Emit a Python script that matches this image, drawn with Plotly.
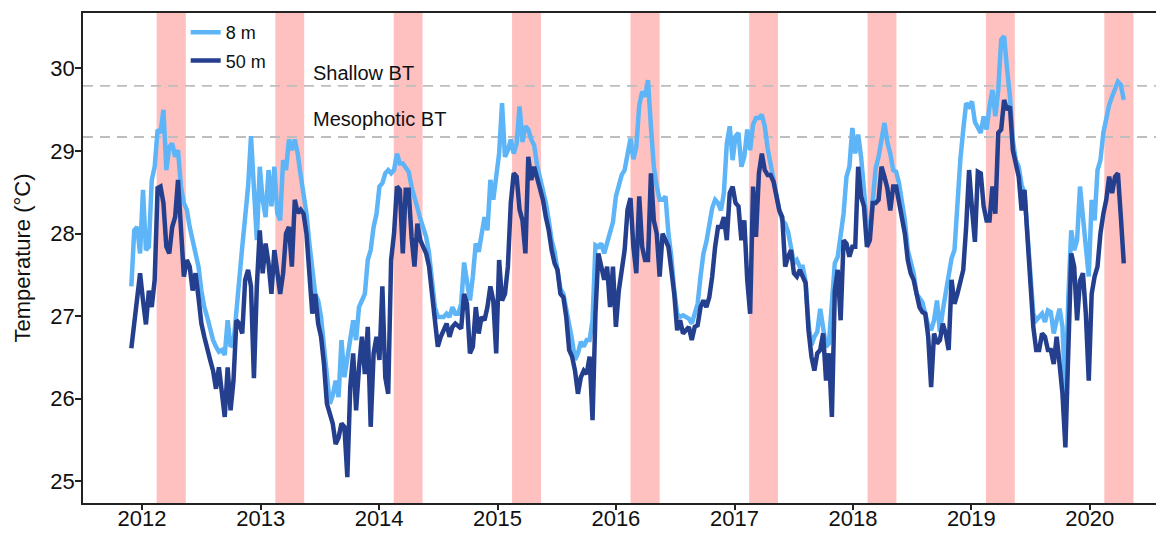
import pandas as pd
import plotly.graph_objects as go

# Sampling grid: one reading every 9 days starting 2011-11-29
start_date = "2011-11-29"
step = "9D"

# 8 m logger (deg C)
t8 = [27.36, 28.04, 28.08, 27.76, 28.53, 27.80, 27.84, 28.65, 28.81, 29.26,
      29.22, 29.50, 28.77, 29.05, 29.09, 28.93, 29.01, 28.57, 28.37, 28.29,
      28.08, 27.92, 27.72, 27.60, 27.31, 27.11, 26.99, 26.83, 26.71, 26.63,
      26.57, 26.59, 26.53, 26.95, 26.63, 26.67, 27.11, 27.48, 27.84, 28.20,
      28.57, 29.18, 28.57, 27.92, 28.81, 28.41, 28.20, 28.77, 28.33, 28.81,
      28.25, 28.16, 28.89, 28.77, 29.14, 29.01, 29.14, 28.97, 28.71, 28.51,
      28.24, 27.88, 27.52, 27.27, 27.19, 26.99, 26.63, 26.22, 25.94, 26.04,
      26.22, 26.02, 26.71, 26.26, 26.51, 26.67, 26.95, 26.71, 27.11, 27.19,
      27.27, 27.68, 27.80, 28.08, 28.24, 28.57, 28.61, 28.73, 28.77, 28.73,
      28.77, 28.97, 28.85, 28.85, 28.79, 28.75, 28.57, 28.41, 28.31, 28.18,
      28.08, 27.96, 27.76, 27.40, 27.11, 26.99, 26.99, 26.99, 27.03, 26.99,
      27.11, 27.03, 27.03, 27.15, 27.65, 27.40, 27.19, 27.48, 27.88, 27.78,
      28.00, 28.20, 28.04, 28.65, 28.41, 28.65, 28.97, 29.58, 28.93, 29.01,
      29.14, 28.97, 29.09, 29.54, 29.11, 29.30, 29.26, 29.14, 29.07, 28.83,
      28.69, 28.53, 28.37, 28.16, 27.92, 27.78, 27.52, 27.33, 27.27, 27.09,
      26.87, 26.71, 26.47, 26.55, 26.69, 26.63, 26.71, 26.71, 26.95, 27.86,
      27.84, 27.88, 27.76, 27.88, 28.00, 28.14, 28.45, 28.61, 28.71, 28.77,
      28.97, 29.15, 28.90, 29.05, 29.55, 29.72, 29.66, 29.86, 29.30, 28.81,
      28.57, 28.41, 28.41, 28.45, 28.00, 27.72, 27.31, 27.03, 26.99, 27.01,
      26.99, 26.97, 26.91, 27.01, 27.15, 27.48, 27.76, 27.90, 28.12, 28.31,
      28.41, 28.37, 28.28, 28.49, 29.09, 29.30, 28.89, 29.18, 29.22, 28.81,
      28.93, 29.26, 29.01, 29.32, 29.40, 29.40, 29.44, 29.30, 29.03, 28.83,
      28.65, 28.43, 28.28, 28.16, 28.12, 28.02, 27.80, 27.64, 27.68, 27.60,
      27.60, 27.42, 26.90, 26.65, 26.75, 26.81, 27.09, 26.87, 26.63, 26.67,
      27.27, 27.64, 27.72, 27.96, 28.24, 28.69, 28.81, 29.28, 28.97, 29.20,
      28.93, 28.53, 28.08, 28.02, 28.49, 28.79, 28.93, 29.14, 29.34, 29.11,
      28.97, 28.77, 28.75, 28.61, 28.37, 28.16, 27.80, 27.66, 27.52, 27.27,
      27.23, 27.17, 27.03, 26.89, 26.83, 26.95, 27.19, 26.81, 27.07, 27.31,
      27.52, 27.70, 27.80, 28.37, 28.89, 29.26, 29.58, 29.54, 29.60, 29.35,
      29.27, 29.22, 29.42, 29.26, 29.54, 29.74, 29.42, 29.74, 30.35, 30.39,
      30.00, 29.66, 29.13, 28.89, 28.81, 28.59, 28.49, 28.04, 27.43, 27.03,
      26.95, 26.99, 27.03, 26.93, 27.07, 27.05, 26.79, 26.95, 27.09, 26.87,
      25.98, 27.23, 28.04, 27.80, 27.92, 28.57, 28.20, 27.72, 27.48, 28.41,
      28.16, 28.77, 28.89, 29.22, 29.40, 29.56, 29.66, 29.74, 29.84, 29.80,
      29.62]

# 50 m logger (deg C)
t50 = [26.61, 26.91, 27.31, 27.52, 27.19, 26.90, 27.31, 27.11, 27.44, 28.55,
       28.57, 28.37, 27.84, 27.76, 28.08, 28.20, 28.65, 28.04, 27.48, 27.68,
       27.60, 27.31, 27.52, 27.23, 26.91, 26.75, 26.63, 26.47, 26.34, 26.12,
       26.38, 26.10, 25.78, 26.38, 25.86, 26.22, 26.95, 26.91, 26.79, 27.44,
       27.56, 27.36, 26.25, 27.36, 28.04, 27.52, 27.88, 27.64, 27.27, 27.80,
       27.56, 27.27, 27.52, 28.00, 28.08, 27.60, 28.41, 28.25, 28.29, 28.24,
       28.00, 27.56, 27.03, 27.27, 26.91, 26.75, 26.42, 25.94, 25.82, 25.70,
       25.45, 25.53, 25.70, 25.66, 25.05, 26.14, 26.55, 25.86, 26.38, 26.75,
       26.30, 26.87, 25.66, 26.55, 26.75, 26.47, 27.36, 26.26, 26.06, 27.68,
       28.00, 28.57, 28.53, 27.76, 28.53, 28.53, 27.96, 27.60, 28.12, 27.92,
       27.84, 27.76, 27.60, 27.27, 26.95, 26.63, 26.75, 26.83, 26.91, 26.75,
       26.87, 26.91, 26.87, 26.85, 27.27, 27.15, 26.55, 26.63, 27.11, 26.79,
       26.99, 26.95, 27.11, 27.36, 27.19, 26.55, 27.68, 27.19, 27.27, 27.60,
       28.37, 28.73, 28.69, 28.29, 28.16, 27.76, 28.93, 28.65, 28.81, 28.69,
       28.57, 28.41, 28.20, 28.04, 27.80, 27.64, 27.56, 27.27, 27.23, 26.99,
       26.59, 26.51, 26.34, 26.06, 26.26, 26.34, 26.30, 26.51, 25.74, 27.03,
       27.76, 27.60, 27.44, 27.60, 27.11, 27.60, 26.87, 27.31, 27.52, 27.80,
       28.29, 28.43, 27.84, 27.52, 28.45, 27.84, 27.68, 27.68, 28.73, 28.16,
       28.00, 27.48, 28.00, 27.92, 27.84, 27.56, 27.27, 26.83, 26.95, 26.79,
       26.83, 26.87, 26.71, 26.87, 26.89, 27.11, 27.19, 27.11, 27.23, 27.48,
       27.84, 28.08, 28.08, 28.20, 27.92, 28.49, 28.57, 28.37, 28.33, 27.92,
       28.16, 27.44, 27.03, 28.57, 27.96, 28.73, 28.97, 28.77, 28.71, 28.71,
       28.63, 28.43, 28.28, 28.20, 27.60, 27.72, 27.80, 27.52, 27.48, 27.56,
       27.46, 27.40, 26.83, 26.51, 26.34, 26.55, 26.59, 26.79, 26.22, 26.55,
       25.78, 27.31, 27.56, 26.95, 27.92, 27.88, 27.72, 27.84, 27.84, 28.81,
       28.45, 28.33, 27.84, 27.92, 28.37, 28.37, 28.41, 28.81, 28.69, 28.55,
       28.28, 28.57, 28.57, 28.37, 28.16, 28.00, 27.68, 27.52, 27.44, 27.27,
       27.11, 27.05, 27.03, 26.75, 26.14, 26.79, 26.67, 26.71, 26.91, 26.79,
       26.59, 27.44, 27.15, 27.27, 27.44, 27.56, 28.08, 28.77, 28.30, 27.90,
       28.75, 28.73, 28.33, 28.16, 28.16, 28.57, 28.24, 29.22, 29.26, 29.62,
       29.50, 29.54, 29.01, 28.85, 28.69, 28.28, 28.53, 27.96, 27.35, 26.87,
       26.59, 26.59, 26.79, 26.75, 26.59, 26.59, 26.42, 26.75, 26.42, 26.06,
       25.41, 26.47, 27.76, 27.60, 26.95, 27.43, 27.52, 27.03, 26.22, 27.27,
       27.48, 27.60, 28.00, 28.24, 28.41, 28.69, 28.49, 28.69, 28.73, 28.20,
       27.64]

# Bleaching thresholds
shallow_bt = 29.79
meso_bt = 29.17

# Warm-season windows (shaded)
season_start = ["2012-02-15", "2013-02-15", "2014-02-15", "2015-02-15", "2016-02-15",
                "2017-02-15", "2018-02-15", "2019-02-15", "2020-02-15"]
season_end = ["2012-05-15", "2013-05-15", "2014-05-15", "2015-05-15", "2016-05-15",
              "2017-05-15", "2018-05-15", "2019-05-15", "2020-05-15"]

tick_years = [2012, 2013, 2014, 2015, 2016, 2017, 2018, 2019, 2020]
y_ticks = [25, 26, 27, 28, 29, 30]

dates = pd.date_range(start_date, periods=len(t8), freq=step)

LIGHT = "#5DB5F8"
DARK = "#243F8E"
FONT = "Liberation Sans, Arial, Helvetica, sans-serif"

fig = go.Figure()
fig.add_trace(go.Scatter(x=dates, y=t8, mode="lines", name="8 m", legendgroup="a",
                         line=dict(color=LIGHT, width=4.5)))
fig.add_trace(go.Scatter(x=dates, y=t50, mode="lines", name="50 m", legendgroup="b",
                         line=dict(color=DARK, width=4.5)))

for s, e in zip(season_start, season_end):
    fig.add_shape(type="rect", xref="x", yref="paper", x0=s, x1=e, y0=0, y1=1,
                  fillcolor="#FFC0C0", line=dict(width=0), layer="below")

for v in (shallow_bt, meso_bt):
    fig.add_shape(type="line", xref="paper", yref="y", x0=0, x1=1, y0=v, y1=v,
                  line=dict(color="#BDBDBD", width=1.8, dash="10px,7px"), layer="below")

fig.add_annotation(text="Shallow BT", xref="paper", yref="y", x=0.2105, y=29.94,
                   xanchor="left", yanchor="middle", showarrow=False,
                   font=dict(size=20, color="#111111", family=FONT))
fig.add_annotation(text="Mesophotic BT", xref="paper", yref="y", x=0.2105, y=29.39,
                   xanchor="left", yanchor="middle", showarrow=False,
                   font=dict(size=20, color="#111111", family=FONT))

# The page body adds an 8px offset; the figure is sized to the remaining viewport.
fig.update_layout(
    width=1156, height=525,
    margin=dict(l=75, r=0, t=5, b=30),
    paper_bgcolor="white", plot_bgcolor="white",
    font=dict(family=FONT, color="#111111"),
    showlegend=True,
    legend=dict(x=0.095, y=0.998, xanchor="left", yanchor="top",
                bgcolor="white", borderwidth=0, tracegroupgap=2,
                font=dict(size=18, family=FONT, color="#111111")),
)
fig.update_xaxes(
    range=["2011-07-03", "2020-08-17"],
    tickvals=[f"{y}-01-01" for y in tick_years],
    ticktext=[str(y) for y in tick_years],
    showgrid=False, zeroline=False, automargin=False,
    showline=True, linecolor="#222222", linewidth=1.5, mirror=True,
    ticks="outside", ticklen=5, tickwidth=1.5, tickcolor="#222222",
    ticklabelstandoff=-10,
    tickfont=dict(size=22, family=FONT, color="#111111"),
)
fig.update_yaxes(
    range=[24.737, 30.672],
    tickvals=y_ticks,
    showgrid=False, zeroline=False, automargin=False,
    showline=True, linecolor="#222222", linewidth=1.5,
    ticks="outside", ticklen=6, tickwidth=1.5, tickcolor="#222222",
    ticklabelstandoff=-4,
    tickfont=dict(size=22, family=FONT, color="#111111"),
    title=dict(text="Temperature (°C)", font=dict(size=22, family=FONT, color="#111111"),
               standoff=14),
)

fig.write_html("out.html")
